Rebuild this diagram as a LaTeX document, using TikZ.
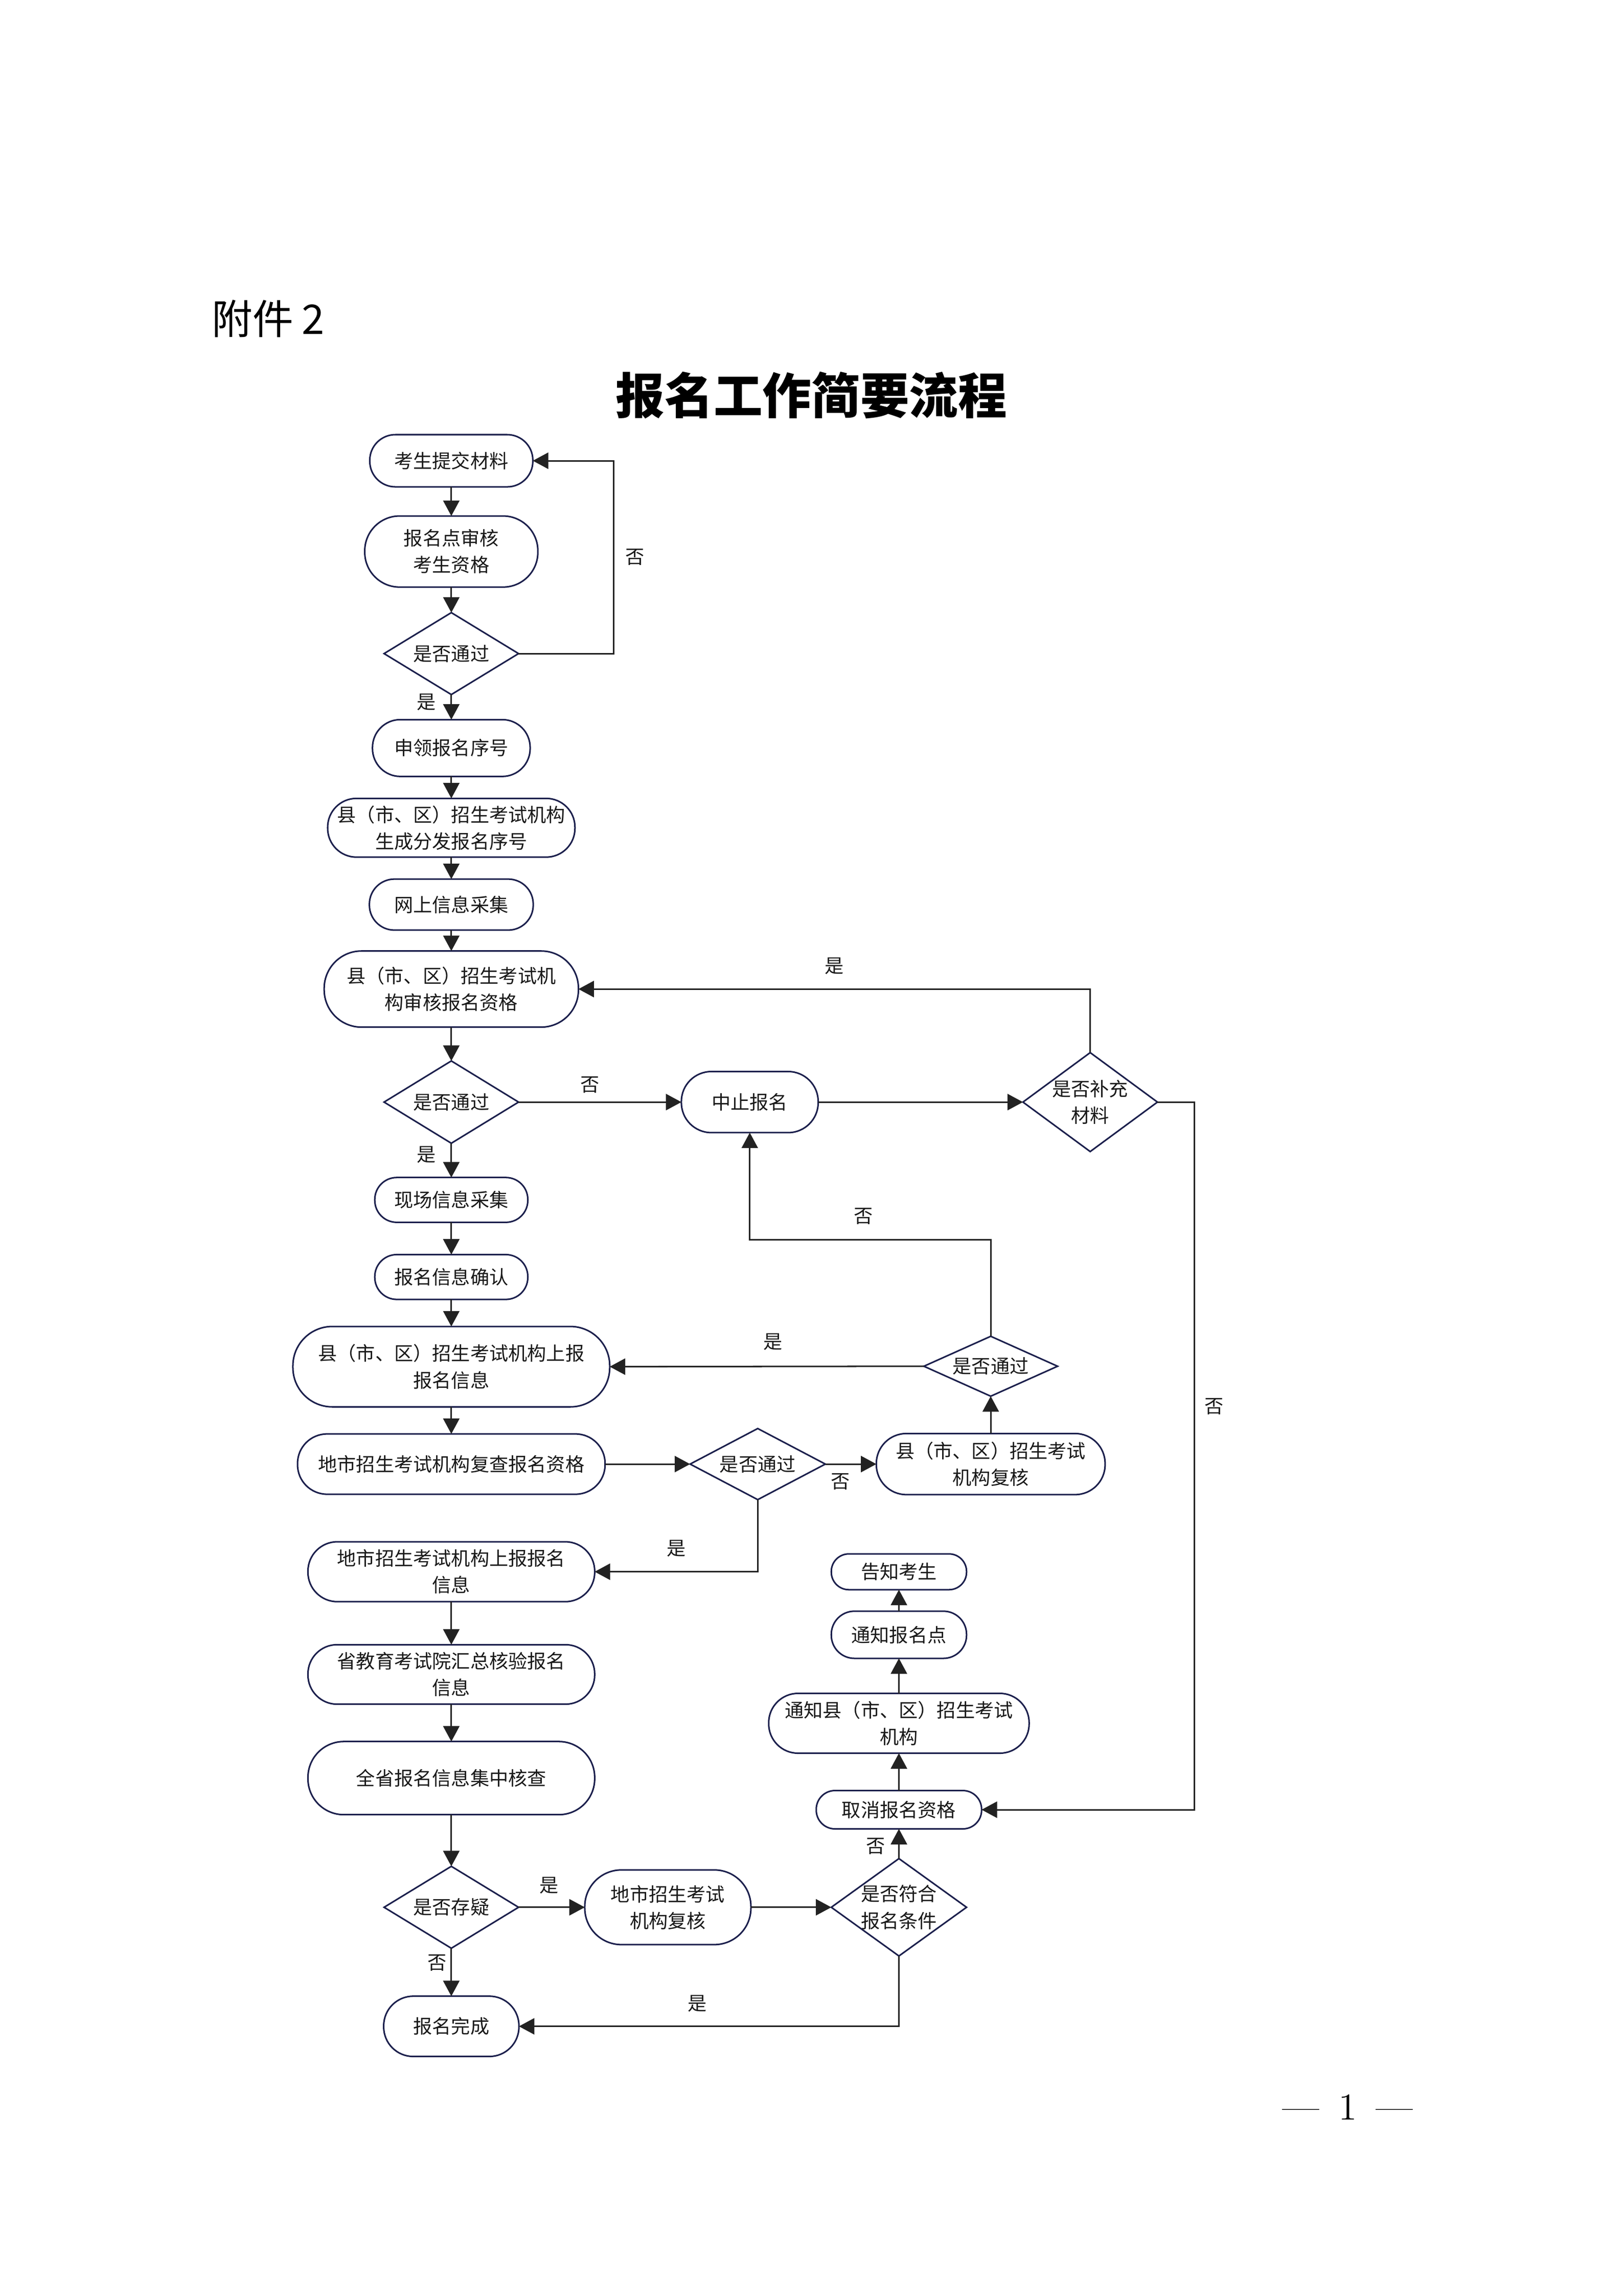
\documentclass[tikz,border=0pt]{standalone}
\usepackage{fontspec}
\newfontfamily\cjkfont{Noto Sans CJK SC}
\usetikzlibrary{
    positioning, % posicionamento relativo (below=of, right=of)
    arrows.meta, % pontas de seta (Triangle)
    shapes.geometric % losangos
}
\definecolor{boxline}{HTML}{1B1F4C}
\definecolor{wire}{HTML}{222222}

\begin{document}
\begin{tikzpicture}

    % --- Estilos ---
    \tikzset{
        % caixas arredondadas das etapas
        stepbox/.style 2 args={
            draw=boxline,
            line width=0.2mm,
            rectangle,
            minimum width=#1,
            minimum height=#2,
            rounded corners={0.49*#2},
            inner sep=1pt,
            outer sep=0pt,
            align=center,
            text=black!90,
            font=\cjkfont\fontsize{7pt}{9.8pt}\selectfont
        },
        % losangos de decisao
        decision/.style 2 args={
            draw=boxline,
            line width=0.2mm,
            diamond,
            shape aspect=1.6,
            minimum width=#1,
            minimum height=#2,
            inner sep=-1pt,
            outer sep=0pt,
            align=center,
            text=black!90,
            font=\cjkfont\fontsize{7pt}{9.8pt}\selectfont
        },
        % setas do fluxo
        flow/.style={
            -{Triangle[length=2mm, width=2.1mm]},
            draw=wire,
            line width=0.2mm
        },
        % textos "是" / "否" junto das setas
        answer/.style={
            inner sep=0pt,
            text=black!90,
            font=\cjkfont\fontsize{7pt}{7pt}\selectfont
        }
    }

    % --- Pagina ---
    \fill[white] (0,0) rectangle (210mm,-297mm);
    \useasboundingbox (0,0) rectangle (210mm,-297mm);

    \node[anchor=west, font=\cjkfont\fontsize{15pt}{15pt}\selectfont] (annex) at (26.2mm,-41.2mm) {附件\hspace{0.2em}2};
    \node[font=\cjkfont\bfseries\fontsize{18pt}{18pt}\selectfont] (title) at (105mm,-51.1mm) {报名工作简要流程};
    \node[font=\fontsize{14pt}{14pt}\selectfont] (pageno) at (174.4mm,-272.6mm) {—\hspace{0.5em}1\hspace{0.5em}—};

    % --- Coluna principal ---
    \node[stepbox={21.1mm}{6.75mm}] (submit) at (58.4mm,-59.6mm) {考生提交材料};
    \node[stepbox={22.4mm}{9.2mm}, below=3.77mm of submit] (sitecheck) {报名点审核\\考生资格};
    \node[decision={17.4mm}{10.6mm}, below=3.3mm of sitecheck] (pass1) {是否通过};
    \node[stepbox={20.4mm}{7.35mm}, below=3.24mm of pass1] (serial) {申领报名序号};
    \node[stepbox={32mm}{7.6mm}, below=2.84mm of serial] (issue) {县（市、区）招生考试机构\\生成分发报名序号};
    \node[stepbox={21.2mm}{6.6mm}, below=2.84mm of issue] (online) {网上信息采集};
    \node[stepbox={32.9mm}{9.85mm}, below=2.7mm of online] (countycheck) {县（市、区）招生考试机\\构审核报名资格};
    \node[decision={17.4mm}{10.65mm}, below=4.37mm of countycheck] (pass2) {是否通过};
    \node[stepbox={19.8mm}{5.8mm}, below=4.43mm of pass2] (onsite) {现场信息采集};
    \node[stepbox={19.8mm}{5.8mm}, below=4.17mm of onsite] (confirm) {报名信息确认};
    \node[stepbox={41mm}{10.4mm}, below=3.5mm of confirm] (countyreport) {县（市、区）招生考试机构上报\\报名信息};
    \node[stepbox={39.8mm}{7.8mm}, below=3.5mm of countyreport] (cityrecheck) {地市招生考试机构复查报名资格};
    \node[stepbox={37.1mm}{7.75mm}, below=6.15mm of cityrecheck] (cityreport) {地市招生考试机构上报报名\\信息};
    \node[stepbox={37.1mm}{7.7mm}, below=5.56mm of cityreport] (provverify) {省教育考试院汇总核验报名\\信息};
    \node[stepbox={37.1mm}{9.46mm}, below=4.83mm of provverify] (provcheck) {全省报名信息集中核查};
    \node[decision={17.4mm}{10.6mm}, below=6.68mm of provcheck] (doubt) {是否存疑};
    \node[stepbox={17.5mm}{7.8mm}, below=6.2mm of doubt] (done) {报名完成};

    % --- Ramos laterais ---
    \node[stepbox={17.7mm}{7.9mm}, right=21.07mm of pass2] (halt) {中止报名};
    \node[decision={17.4mm}{12.8mm}, shape aspect=1.36, right=26.5mm of halt] (supply) {是否补充\\材料};
    \node[decision={17.5mm}{9.2mm}, right=11mm of cityrecheck] (pass3) {是否通过};
    \node[stepbox={29.6mm}{7.9mm}, right=6.6mm of pass3] (countyreview) {县（市、区）招生考试\\机构复核};
    \node[decision={17.3mm}{7.75mm}, shape aspect=2.2, above=4.83mm of countyreview] (pass4) {是否通过};
    \node[stepbox={21.5mm}{9.66mm}, right=8.57mm of doubt] (cityreview) {地市招生考试\\机构复核};
    \node[decision={17.5mm}{12.6mm}, shape aspect=1.4, right=10.4mm of cityreview] (qualify) {是否符合\\报名条件};
    \node[stepbox={21.4mm}{4.96mm}, above=3.84mm of qualify] (cancel) {取消报名资格};
    \node[stepbox={33.7mm}{7.74mm}, above=4.83mm of cancel] (notifycounty) {通知县（市、区）招生考试\\机构};
    \node[stepbox={17.5mm}{6.1mm}, above=4.53mm of notifycounty] (notifysite) {通知报名点};
    \node[stepbox={17.5mm}{4.63mm}, above=2.78mm of notifysite] (inform) {告知考生};

    % --- Setas da coluna principal ---
    \draw[flow] (submit.south) -- (sitecheck.north);
    \draw[flow] (sitecheck.south) -- (pass1.north);
    \draw[flow] (pass1.south) -- node[answer, pos=0.3, left=1.9mm] (yes1) {是} (serial.north);
    \draw[flow] (serial.south) -- (issue.north);
    \draw[flow] (issue.south) -- (online.north);
    \draw[flow] (online.south) -- (countycheck.north);
    \draw[flow] (countycheck.south) -- (pass2.north);
    \draw[flow] (pass2.south) -- node[answer, pos=0.34, left=1.9mm] (yes2) {是} (onsite.north);
    \draw[flow] (onsite.south) -- (confirm.north);
    \draw[flow] (confirm.south) -- (countyreport.north);
    \draw[flow] (countyreport.south) -- (cityrecheck.north);
    \draw[flow] (cityreport.south) -- (provverify.north);
    \draw[flow] (provverify.south) -- (provcheck.north);
    \draw[flow] (provcheck.south) -- (doubt.north);
    \draw[flow] (doubt.south) -- node[answer, pos=0.3, left=0.5mm] (no9) {否} (done.north);

    % --- Retornos e ramos ---
    \draw[flow] (pass1.east) -- ++(12.3mm,0) |- node[answer, pos=0.25, right=1.4mm] (no1) {否} (submit.east);
    \draw[flow] (pass2.east) -- node[answer, pos=0.44, above=1.1mm] (no2) {否} (halt.west);
    \draw[flow] (halt.east) -- (supply.west);
    \draw[flow] (supply.north) |- node[answer, pos=0.75, above=1.8mm] (yes3) {是} (countycheck.east);
    \draw[flow] (supply.east) -- ++(4.8mm,0) |- node[answer, pos=0.215, right=1.2mm] (no3) {否} (cancel.east);
    \draw[flow] (cityrecheck.east) -- (pass3.west);
    \draw[flow] (pass3.east) -- node[answer, pos=0.3, below=1.1mm] (no4) {否} (countyreview.west);
    \draw[flow] (countyreview.north) -- (pass4.south);
    \draw[flow] (pass4.west) -- node[answer, pos=0.48, above=2mm] (yes4) {是} (countyreport.east);
    \draw[flow] (pass4.north) -- ++(0,12.5mm) -| node[answer, pos=0.264, above=1.9mm] (no5) {否} (halt.south);
    \draw[flow] (pass3.south) |- node[answer, pos=0.75, above=1.8mm] (yes5) {是} (cityreport.east);

    % --- Parte inferior ---
    \draw[flow] (doubt.east) -- node[answer, pos=0.46, above=1.65mm] (yes6) {是} (cityreview.west);
    \draw[flow] (cityreview.east) -- (qualify.west);
    \draw[flow] (qualify.north) -- node[answer, pos=0.41, left=1.7mm] (no6) {否} (cancel.south);
    \draw[flow] (cancel.north) -- (notifycounty.south);
    \draw[flow] (notifycounty.north) -- (notifysite.south);
    \draw[flow] (notifysite.north) -- (inform.south);
    \draw[flow] (qualify.south) |- node[answer, pos=0.765, above=1.75mm] (yes7) {是} (done.east);

\end{tikzpicture}
\end{document}
